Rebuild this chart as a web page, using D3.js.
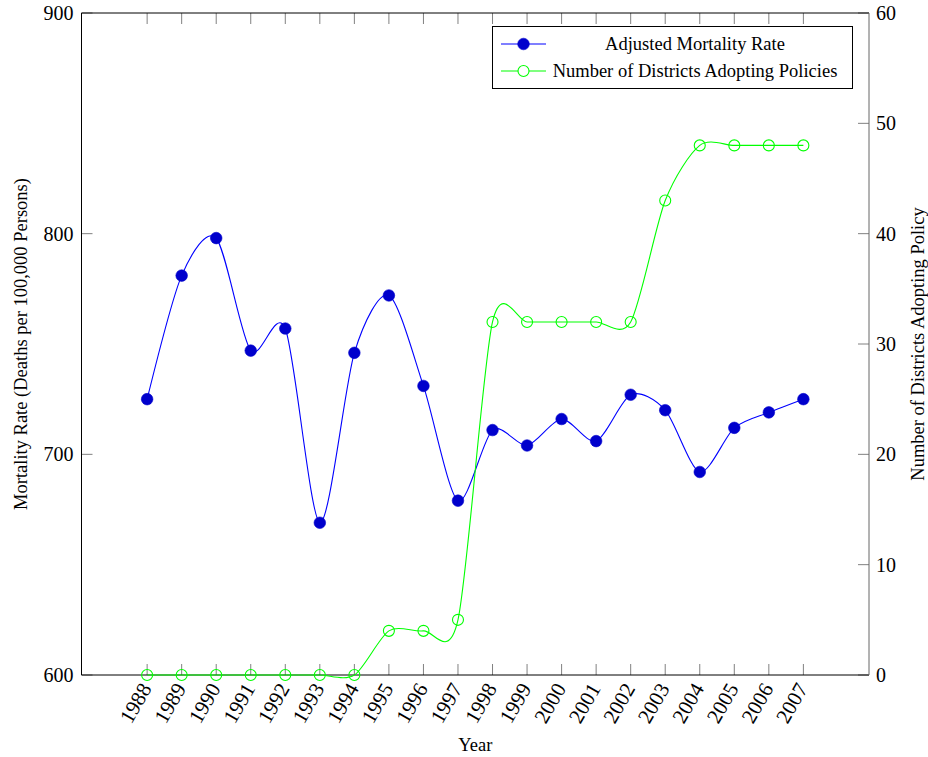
<!DOCTYPE html>
<html>
<head>
<meta charset="utf-8">
<script src="https://cdn.jsdelivr.net/npm/d3@7"></script>
<style>
  html, body { margin: 0; padding: 0; background: #fff; }
  svg { display: block; }
  text { font-family: "Liberation Serif", "Times New Roman", serif; fill: #000; }
</style>
</head>
<body>
<svg id="chart" width="928" height="757"></svg>
<script>
// Yearly series
const years = [1988, 1989, 1990, 1991, 1992, 1993, 1994, 1995, 1996, 1997,
               1998, 1999, 2000, 2001, 2002, 2003, 2004, 2005, 2006, 2007];
const mortality = [725, 781, 798, 747, 757, 669, 746, 772, 731, 679,
                   711, 704, 716, 706, 727, 720, 692, 712, 719, 725];
const districts = [0, 0, 0, 0, 0, 0, 0, 4, 4, 5,
                   32, 32, 32, 32, 32, 43, 48, 48, 48, 48];

const leftTicks = [600, 700, 800, 900];
const rightTicks = [0, 10, 20, 30, 40, 50, 60];

const seriesNames = ["Adjusted Mortality Rate", "Number of Districts Adopting Policies"];
const xTitle = "Year";
const yLeftTitle = "Mortality Rate (Deaths per 100,000 Persons)";
const yRightTitle = "Number of Districts Adopting Policy";

const svg = d3.select("#chart");

const plot = { left: 81.5, right: 869, top: 13, bottom: 675 };
const pad = 1.9;

const x = d3.scaleLinear()
  .domain([d3.min(years) - pad, d3.max(years) + pad])
  .range([plot.left, plot.right]);
const yL = d3.scaleLinear().domain([600, 900]).range([plot.bottom, plot.top]);
const yR = d3.scaleLinear().domain([0, 60]).range([plot.bottom, plot.top]);

const tickColor = "#808080";
const tickLen = 11;

// Tick marks (inside the plot box)
const gTicks = svg.append("g");
years.forEach(yr => {
  gTicks.append("line")
    .attr("x1", x(yr)).attr("x2", x(yr))
    .attr("y1", plot.bottom).attr("y2", plot.bottom - tickLen)
    .attr("stroke", tickColor).attr("stroke-width", 1);
  gTicks.append("line")
    .attr("x1", x(yr)).attr("x2", x(yr))
    .attr("y1", plot.top).attr("y2", plot.top + tickLen)
    .attr("stroke", tickColor).attr("stroke-width", 1);
});
leftTicks.forEach(v => {
  gTicks.append("line")
    .attr("x1", plot.left).attr("x2", plot.left + tickLen)
    .attr("y1", yL(v)).attr("y2", yL(v))
    .attr("stroke", tickColor).attr("stroke-width", 1);
});
rightTicks.forEach(v => {
  gTicks.append("line")
    .attr("x1", plot.right).attr("x2", plot.right - tickLen)
    .attr("y1", yR(v)).attr("y2", yR(v))
    .attr("stroke", tickColor).attr("stroke-width", 1);
});

// Plot frame: left, top, bottom in black, right axis in grey
svg.append("path")
  .attr("d", `M${plot.right},${plot.top}H${plot.left}V${plot.bottom}H${plot.right}`)
  .attr("fill", "none").attr("stroke", "#000").attr("stroke-width", 1);
svg.append("line")
  .attr("x1", plot.right).attr("x2", plot.right)
  .attr("y1", plot.top).attr("y2", plot.bottom)
  .attr("stroke", "#666").attr("stroke-width", 1);

// Tick labels
svg.append("g").selectAll("text").data(leftTicks).join("text")
  .attr("x", plot.left - 8).attr("y", d => yL(d))
  .attr("text-anchor", "end").attr("dominant-baseline", "central")
  .attr("font-size", 20).text(d => d);

svg.append("g").selectAll("text").data(rightTicks).join("text")
  .attr("x", plot.right + 7).attr("y", d => yR(d))
  .attr("text-anchor", "start").attr("dominant-baseline", "central")
  .attr("font-size", 20).text(d => d);

svg.append("g").selectAll("text").data(years).join("text")
  .attr("transform", d => `translate(${x(d) - 1},${plot.bottom + 10}) rotate(-60)`)
  .attr("text-anchor", "end").attr("dominant-baseline", "central")
  .attr("font-size", 21).text(d => d);

// Axis titles
svg.append("text")
  .attr("x", (plot.left + plot.right) / 2).attr("y", 751)
  .attr("text-anchor", "middle").attr("font-size", 18.5).text(xTitle);

svg.append("text")
  .attr("transform", `translate(21,${(plot.top + plot.bottom) / 2}) rotate(-90)`)
  .attr("text-anchor", "middle").attr("dominant-baseline", "central")
  .attr("font-size", 18.5).text(yLeftTitle);

svg.append("text")
  .attr("transform", `translate(918,${(plot.top + plot.bottom) / 2}) rotate(-90)`)
  .attr("text-anchor", "middle").attr("dominant-baseline", "central")
  .attr("font-size", 18.5).text(yRightTitle);

// Smoothed lines
const curve = d3.curveCardinal.tension(0.17);

const blue = "#0000ff", blueMark = "#0000cc", green = "#00ff00";

const mortPts = years.map((yr, i) => [yr, mortality[i]]);
const distPts = years.map((yr, i) => [yr, districts[i]]);

svg.append("path")
  .datum(mortPts)
  .attr("fill", "none").attr("stroke", blue).attr("stroke-width", 1.1)
  .attr("d", d3.line().x(d => x(d[0])).y(d => yL(d[1])).curve(curve));

svg.append("g").selectAll("circle").data(mortPts).join("circle")
  .attr("cx", d => x(d[0])).attr("cy", d => yL(d[1])).attr("r", 5.8)
  .attr("fill", blueMark).attr("stroke", blueMark).attr("stroke-width", 0.6);

svg.append("path")
  .datum(distPts)
  .attr("fill", "none").attr("stroke", green).attr("stroke-width", 1.1)
  .attr("d", d3.line().x(d => x(d[0])).y(d => yR(d[1])).curve(curve));

svg.append("g").selectAll("circle").data(distPts).join("circle")
  .attr("cx", d => x(d[0])).attr("cy", d => yR(d[1])).attr("r", 5.5)
  .attr("fill", "none").attr("stroke", green).attr("stroke-width", 1.1);

// Legend
const lg = svg.append("g");
lg.append("rect")
  .attr("x", 492.5).attr("y", 26.5).attr("width", 360).attr("height", 62)
  .attr("fill", "#fff").attr("stroke", "#000").attr("stroke-width", 1);

const legendRows = [
  { name: seriesNames[0], color: blue, filled: true, y: 44 },
  { name: seriesNames[1], color: green, filled: false, y: 71 }
];
legendRows.forEach(r => {
  lg.append("line")
    .attr("x1", 501).attr("x2", 546).attr("y1", r.y).attr("y2", r.y)
    .attr("stroke", r.color).attr("stroke-width", 1.1);
  lg.append("circle")
    .attr("cx", 523.5).attr("cy", r.y).attr("r", r.filled ? 5.8 : 5.5)
    .attr("fill", r.filled ? blueMark : "#fff")
    .attr("stroke", r.filled ? blueMark : green)
    .attr("stroke-width", r.filled ? 0.6 : 1.1);
  lg.append("text")
    .attr("x", 695).attr("y", r.y)
    .attr("text-anchor", "middle").attr("dominant-baseline", "central")
    .attr("font-size", 18.5).text(r.name);
});
</script>
</body>
</html>
